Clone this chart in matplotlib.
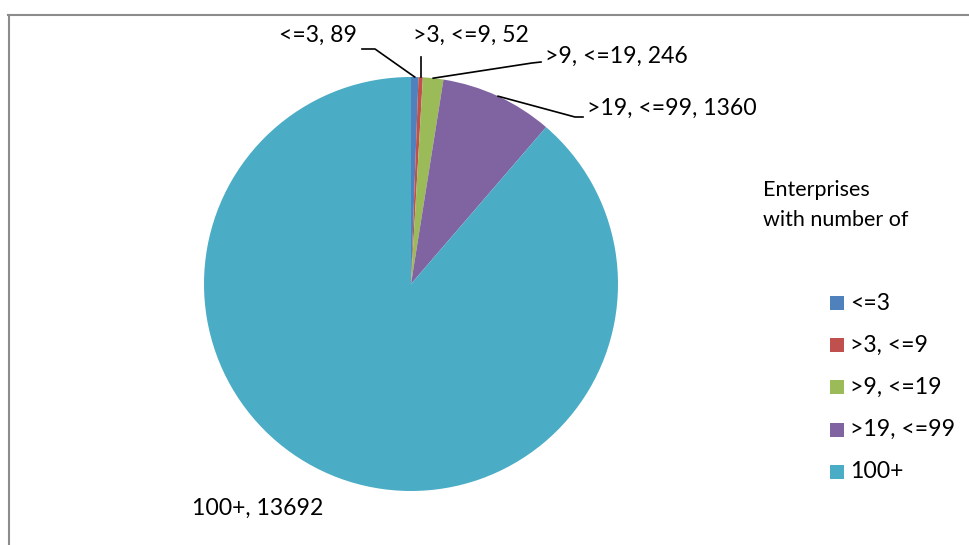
import numpy as np
import matplotlib
matplotlib.use("Agg")
import matplotlib.pyplot as plt
from matplotlib.patches import Rectangle
from matplotlib.lines import Line2D

categories = ["<=3", ">3, <=9", ">9, <=19", ">19, <=99", "100+"]
values = [89, 52, 246, 1360, 13692]
colors = ["#4F81BD", "#C0504D", "#9BBB59", "#8064A2", "#4BACC6"]
legend_title = "Enterprises\nwith number of"

plt.rcParams['font.family'] = ['Lato', 'DejaVu Sans']
FS = 16.6
FS_T = 15.5

W, H = 970, 545
fig = plt.figure(figsize=(W / 100, H / 100), dpi=100)

cx, cy, R = 411, 284, 207
ax = fig.add_axes([(cx - R) / W, (H - cy - R) / H, 2 * R / W, 2 * R / H])
wedges, _ = ax.pie(values, colors=colors, startangle=90, counterclock=False,
                   radius=1, wedgeprops=dict(linewidth=0))
ax.set_xlim(-1, 1)
ax.set_ylim(-1, 1)
ax.set_aspect('equal')
ax.axis('off')

def p2d(px, py):
    return ((px - cx) / R, (cy - py) / R)

def tip(i):
    w = wedges[i]
    a = np.deg2rad((w.theta1 + w.theta2) / 2)
    return np.cos(a), np.sin(a)

def lbl(i):
    return f"{categories[i]}, {values[i]}"

specs = [
    dict(txt=(357, 35), ha='right', pts=[(362, 49), (375, 49)]),
    dict(txt=(471, 35), ha='center', pts=[(421, 57)]),
    dict(txt=(545, 56), ha='left', pts=[(541, 62), (532, 63)]),
    dict(txt=(587, 108), ha='left', pts=[(583, 117), (575, 117)]),
    dict(txt=(258, 508), ha='center', pts=None),
]
for i, s in enumerate(specs):
    tx, ty = p2d(*s['txt'])
    ax.text(tx, ty, lbl(i), ha=s['ha'], va='center', fontsize=FS, clip_on=False)
    if s['pts']:
        xs = [p2d(*p)[0] for p in s['pts']]
        ys = [p2d(*p)[1] for p in s['pts']]
        t = tip(i)
        if i == 1:
            xs = [t[0]]
        xs.append(t[0]); ys.append(t[1])
        ax.add_line(Line2D(xs, ys, color='black', lw=1.2, clip_on=False))

# border
fig.add_artist(Line2D([8 / W, 1], [1 - 15 / H, 1 - 15 / H], transform=fig.transFigure, color='#8C8C8C', lw=1.5))
fig.add_artist(Line2D([9 / W, 9 / W], [0, 1 - 15 / H], transform=fig.transFigure, color='#8C8C8C', lw=1.5))

# legend
fig.text(763 / W, 1 - 190 / H, legend_title.split("\n")[0], fontsize=FS_T, va='center', ha='left')
fig.text(763 / W, 1 - 220 / H, legend_title.split("\n")[1], fontsize=FS_T, va='center', ha='left')
for k, (c, name) in enumerate(zip(colors, categories)):
    yc = 303 + 42.2 * k
    fig.add_artist(Rectangle((830 / W, 1 - (yc + 7) / H), 14 / W, 14 / H,
                             transform=fig.transFigure, facecolor=c, edgecolor='none'))
    fig.text(850 / W, 1 - yc / H, name, fontsize=FS, va='center', ha='left')

fig.savefig("out.png", dpi=100, facecolor='white')
